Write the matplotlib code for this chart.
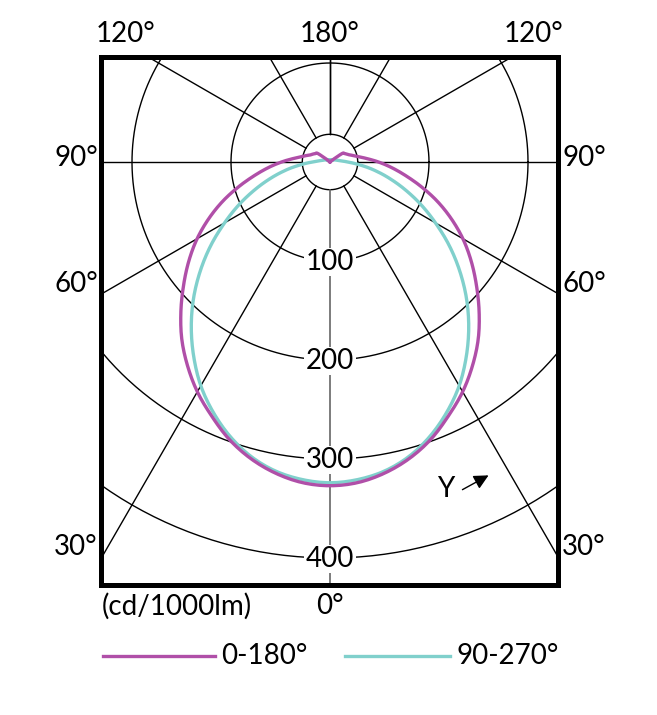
"""Curva fotometrica polar (cd/1000lm)."""

import matplotlib
matplotlib.use('Agg')
import matplotlib.pyplot as plt
import numpy as np

plt.rcParams['font.family'] = ['Lato', 'DejaVu Sans']

# Datos (gamma desde el nadir, intensidad en cd/1000lm)
gamma = [0, 5, 10, 15, 20, 25, 30, 35, 40, 45, 50, 55, 60, 65, 70, 75,
         80, 85, 90, 95, 100, 105, 110, 115, 120, 125, 130, 135, 150, 165, 180]
plano_0_180 = [327, 325, 319, 310, 298, 283, 268, 251, 233, 213, 193, 174,
               155, 135, 115, 95, 77, 62, 49, 38, 30, 25, 21, 19, 17, 15, 3,
               0, 0, 0, 0]
plano_90_270 = [324, 322, 317, 308, 295, 279, 261, 240, 218, 195, 171, 147,
                123, 101, 80, 61, 44, 29, 18, 12, 9, 7, 6, 5, 4, 4, 3, 3,
                2.5, 2, 2]

anillos = [100, 200, 300, 400]
etiquetas_lado = ['90°', '60°', '30°']
etiquetas_arriba = ['120°', '180°', '120°']
leyenda = ['0-180°', '90-270°']
colores = ['#b04fa8', '#80d0cc']

ESCALA = 0.99  # px por unidad
CX, CY = 330, 162
W, H = 657, 715
FS = 20


def px(x, y):
    """Convierte pixeles de la imagen a coordenadas de datos."""
    return (x - CX) / ESCALA, (CY - y) / ESCALA


def suavizar(xs, ys, n=8):
    """Catmull-Rom entre los puntos medidos, solo para el trazo."""
    p = np.column_stack([xs, ys])
    p = np.vstack([p[0], p, p[-1]])
    out = []
    for i in range(1, len(p) - 2):
        p0, p1, p2, p3 = p[i - 1], p[i], p[i + 1], p[i + 2]
        for s in np.linspace(0, 1, n, endpoint=False):
            out.append(0.5 * ((2 * p1) + (-p0 + p2) * s
                              + (2 * p0 - 5 * p1 + 4 * p2 - p3) * s ** 2
                              + (-p0 + 3 * p1 - 3 * p2 + p3) * s ** 3))
    out.append(p[-2])
    out = np.array(out)
    return out[:, 0], out[:, 1]


fig = plt.figure(figsize=(W / 100, H / 100), dpi=100)
ax = fig.add_axes([101 / W, 1 - 585 / H, 457 / W, 528 / H])
x0, y1 = px(101, 57)
x1, y0 = px(558, 585)
ax.set_xlim(x0, x1)
ax.set_ylim(y0, y1)
ax.set_xticks([])
ax.set_yticks([])
for s in ax.spines.values():
    s.set_linewidth(3.6)
    s.set_color('black')

# Rejilla: circulos y radios
t = np.linspace(0, 2 * np.pi, 400)
ax.plot(28 * np.cos(t), 28 * np.sin(t), color='black', lw=1.0, zorder=1)
for r in anillos:
    ax.plot(r * np.cos(t), r * np.sin(t), color='black', lw=1.0, zorder=1)

for g in [30, 60, 90, 120, 150, 180]:
    a = np.radians(g)
    for lado in (-1, 1):
        ax.plot([lado * 28 * np.sin(a), lado * 700 * np.sin(a)],
                [-28 * np.cos(a), -700 * np.cos(a)],
                color='black', lw=1.0, zorder=1)
ax.plot([0, 0], [-28, -700], color='#666666', lw=1.2, zorder=1)

for r in anillos:
    ax.text(0, -r - 1, str(r), ha='center', va='center', fontsize=FS,
            zorder=3, bbox=dict(boxstyle='square,pad=0.05', fc='white',
                                ec='none'))

# Curvas
g_rad = np.radians(gamma)
for datos, color in [(plano_90_270, colores[1]), (plano_0_180, colores[0])]:
    I = np.array(datos, dtype=float)
    hx = I * np.sin(g_rad)
    hy = -I * np.cos(g_rad)
    xs = np.concatenate([-hx[::-1], hx[1:]])
    ys = np.concatenate([hy[::-1], hy[1:]])
    xs, ys = suavizar(xs, ys)
    ax.plot(xs, ys, color=color, lw=2.4, zorder=4, solid_joinstyle='round')

# Etiquetas de angulos
for lab, xp in zip(etiquetas_arriba, [126, 330, 534]):
    ax.text(*px(xp, 34), lab, ha='center', va='center', fontsize=FS,
            clip_on=False)
for lab, yp in zip(etiquetas_lado, [158, 284, 547]):
    ax.text(*px(76, yp), lab, ha='center', va='center', fontsize=FS,
            clip_on=False)
    ax.text(*px(584, yp), lab, ha='center', va='center', fontsize=FS,
            clip_on=False)
ax.text(*px(330, 606), '0°', ha='center', va='center', fontsize=FS,
        clip_on=False)
ax.text(*px(102, 606), '(cd/1000lm)', ha='left', va='center', fontsize=FS,
        clip_on=False)

# Flecha gamma
ax.text(*px(446, 489), 'Y', ha='center', va='center', fontsize=FS)
ax.annotate('', xy=px(491, 474), xytext=px(460, 491),
            arrowprops=dict(arrowstyle='-|>', color='black', lw=1.0,
                            mutation_scale=22))

# Leyenda
for (xa, xb, xt), lab, color in zip([(103, 215, 221), (345, 450, 457)],
                                    leyenda, colores):
    xa_d, yl = px(xa, 656)
    xb_d, _ = px(xb, 656)
    ax.plot([xa_d, xb_d], [yl, yl], color=color, lw=2.4, clip_on=False)
    ax.text(px(xt, 656)[0], yl, lab, ha='left', va='center', fontsize=FS,
            clip_on=False)

fig.savefig('out.png', dpi=100)
